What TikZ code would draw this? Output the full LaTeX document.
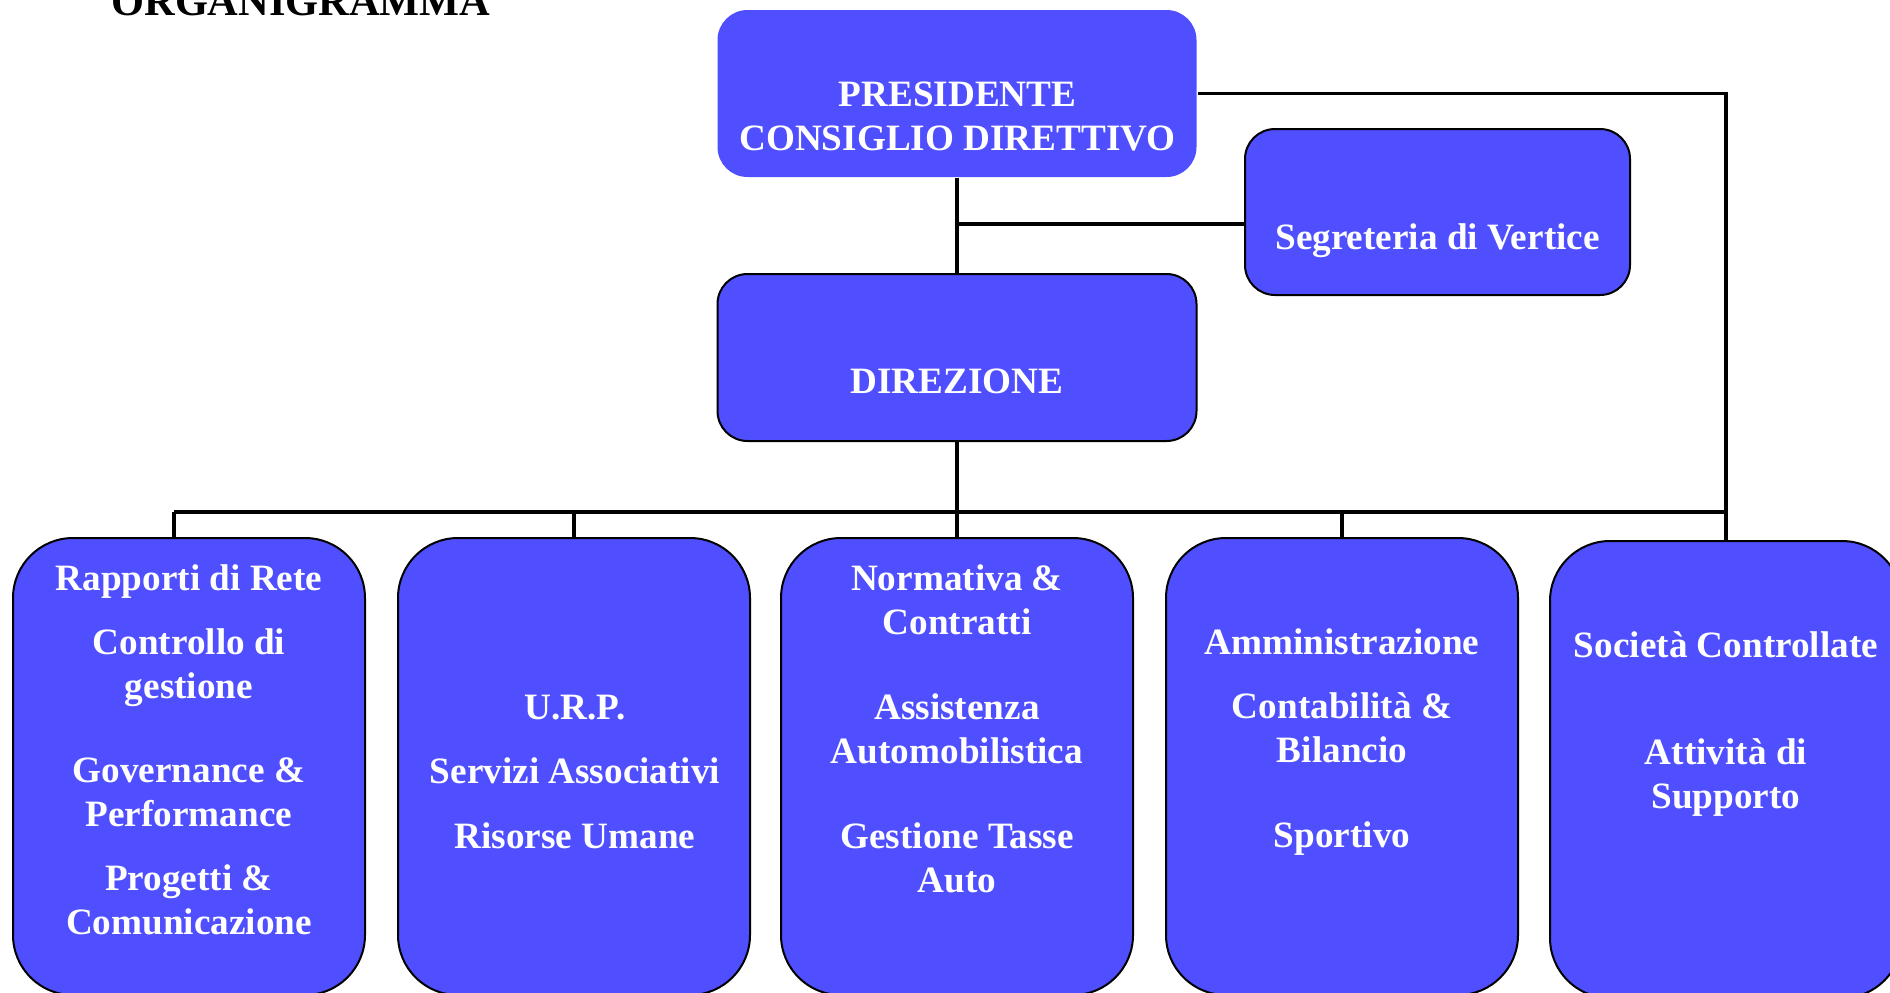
\documentclass[tikz,border=0pt]{standalone}
\usepackage{fontspec}
\setmainfont{Liberation Serif}
\usepackage{xcolor}
\usetikzlibrary{positioning,calc}
\definecolor{orgblue}{RGB}{79,79,255}

\begin{document}
\begin{tikzpicture}[x=0.5pt, y=-0.5pt,
    every node/.style={align=center},
    topbox/.style={fill=orgblue, draw=black, line width=1pt, rounded corners=15pt,
      minimum width=239.5pt, minimum height=83.5pt},
    unitbox/.style={fill=orgblue, draw=black, line width=1pt, rounded corners=30pt,
      minimum width=176pt, minimum height=228.5pt},
    boxtext/.style={text=white, font=\fontsize{18.6}{22}\selectfont\bfseries},
    link/.style={line width=1.6pt}]
  \useasboundingbox (0,0) rectangle (1890,992);
  \clip (0,0) rectangle (1890,992);

  % title
  \node[anchor=base west, inner sep=0pt, font=\fontsize{21.2}{24}\selectfont\bfseries]
    (title) at (111,15) {ORGANIGRAMMA};

  % top of the chart
  \node[topbox, draw=none] (pres) at (957,93.5) {};
  \node[topbox, minimum width=192.5pt, minimum height=83pt] (segr) at (1437.5,212) {};
  \node[topbox] (dir) at (957,357.5) {};

  % units
  \node[unitbox] (u1) at (189,766.5) {};
  \node[unitbox] (u2) at (574,766.5) {};
  \node[unitbox] (u3) at (957,766.5) {};
  \node[unitbox] (u4) at (1342,766.5) {};
  \node[unitbox] (u5) at (1726,769.5) {};

  % texts
  \node[boxtext] (prest) at (957.5,116.5) {PRESIDENTE\\CONSIGLIO DIRETTIVO};
  \node[boxtext] (segrt) at (1437.5,241) {Segreteria di Vertice};
  \node[boxtext] (dirt) at (957,381) {DIREZIONE};
  \node[boxtext] (u1t) at (189,749.5)
    {Rapporti di Rete\\[10pt]Controllo di\\gestione\\[20pt]Governance \&\\Performance\\[10pt]Progetti \&\\Comunicazione};
  \node[boxtext] (u2t) at (575,771.5)
    {U.R.P.\\[10pt]Servizi Associativi\\[10.5pt]Risorse Umane};
  \node[boxtext] (u3t) at (957,728.5)
    {Normativa \&\\Contratti\\[20.5pt]Assistenza\\Automobilistica\\[20.5pt]Gestione Tasse\\Auto};
  \node[boxtext] (u4t) at (1342,742.5)
    {Amministrazione\\[10pt]Contabilità \&\\Bilancio\\[20.5pt]Sportivo};
  \node[boxtext] (u5t) at (1726,724.5)
    {Società Controllate\\[31.5pt]Attività di\\Supporto};

  % lines
  \coordinate (busl) at (174,512);
  \coordinate (busr) at (1726,512);
  \coordinate (sj) at ([yshift=-6pt]segr.west);
  \draw[link] (pres.south) -- (dir.north);
  \draw[link] (sj) -- (sj -| pres.south);
  \draw[link] (pres.east) -| (u5.north);
  \draw[link] (dir.south) -- (dir.south |- busl);
  \draw[link] (busl) -- (busr);
  \draw[link] (busl) -- (busl |- u1.north);
  \draw[link] (u2.north) -- (u2.north |- busl);
  \draw[link] (u3.north) -- (u3.north |- busl);
  \draw[link] (u4.north) -- (u4.north |- busl);
\end{tikzpicture}
\end{document}
